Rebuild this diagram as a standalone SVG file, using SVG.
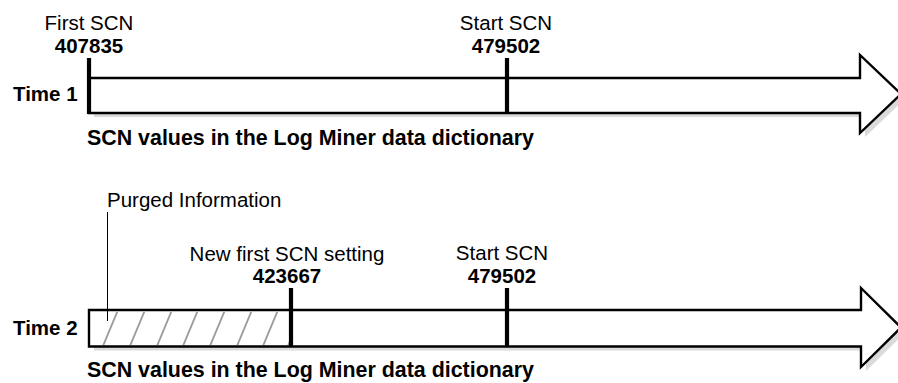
<svg xmlns="http://www.w3.org/2000/svg" width="898" height="383" viewBox="0 0 898 383">
<style>
  .t { font-family: "Liberation Sans", Arial, sans-serif; font-size: 20.5px; fill: #000; }
  .b { font-weight: bold; }
  .c { text-anchor: middle; }
  .ttl { font-family: "Liberation Sans", Arial, sans-serif; font-size: 21.4px; font-weight: bold; fill: #000; }
  .body { fill: #fff; stroke: #000; stroke-width: 2.4; stroke-linejoin: miter; }
  .shadow { fill: #dadada; stroke: none; }
  .tick { stroke: #000; stroke-width: 4.2; }
  .hatch { stroke: #9a9a9a; stroke-width: 1.8; }
  .leader { stroke: #000; stroke-width: 1; fill: none; }
</style>
<defs>
  <clipPath id="purgeClip"><rect x="91" y="312" width="198" height="33"/></clipPath>
</defs>
<rect width="898" height="383" fill="#fff"/>

<g id="time1">
  <path class="shadow" d="M94,82 H865 V59 L906,98 L865,137 V117 H94 Z"/>
  <path class="body" d="M89,78 H860 V55 L901,94 L860,133 V113 H89 Z"/>
  <line class="tick" x1="89" y1="58" x2="89" y2="114"/>
  <line class="tick" x1="507" y1="58" x2="507" y2="114"/>
  <text class="t b" x="13" y="100.5">Time 1</text>
  <text class="ttl" x="87" y="145">SCN values in the Log Miner data dictionary</text>
</g>

<g id="first-scn-1">
  <text class="t c" x="89" y="30">First SCN</text>
  <text class="t b c" x="89" y="53">407835</text>
</g>

<g id="start-scn-1">
  <text class="t c" x="506" y="30">Start SCN</text>
  <text class="t b c" x="506" y="53">479502</text>
</g>

<g id="time2">
  <path class="shadow" d="M94,314 H866 V292 L906,331.5 L866,371 V350.5 H94 Z"/>
  <path class="body" d="M89,310 H861 V288 L901,327.5 L861,367 V346.5 H89 Z"/>
  <g clip-path="url(#purgeClip)">
    <line class="hatch" x1="76" y1="346" x2="91" y2="310"/>
    <line class="hatch" x1="103" y1="346" x2="118" y2="310"/>
    <line class="hatch" x1="130" y1="346" x2="145" y2="310"/>
    <line class="hatch" x1="157" y1="346" x2="172" y2="310"/>
    <line class="hatch" x1="183" y1="346" x2="198" y2="310"/>
    <line class="hatch" x1="210" y1="346" x2="225" y2="310"/>
    <line class="hatch" x1="237" y1="346" x2="252" y2="310"/>
    <line class="hatch" x1="263" y1="346" x2="278" y2="310"/>
    <line class="hatch" x1="288" y1="346" x2="303" y2="310"/>
  </g>
  <line class="tick" x1="291" y1="288" x2="291" y2="347"/>
  <line class="tick" x1="507" y1="288" x2="507" y2="347"/>
  <text class="t b" x="13" y="335">Time 2</text>
  <text class="ttl" x="87" y="377">SCN values in the Log Miner data dictionary</text>
</g>

<g id="purged-info">
  <text class="t" x="107" y="207">Purged Information</text>
</g>

<g id="new-first-scn">
  <text class="t c" x="287" y="261">New first SCN setting</text>
  <text class="t b c" x="287" y="283">423667</text>
</g>

<g id="start-scn-2">
  <text class="t c" x="502" y="260">Start SCN</text>
  <text class="t b c" x="502" y="283">479502</text>
</g>

<g id="connectors">
  <line class="leader" x1="107.5" y1="212" x2="107.5" y2="321"/>
</g>
</svg>
